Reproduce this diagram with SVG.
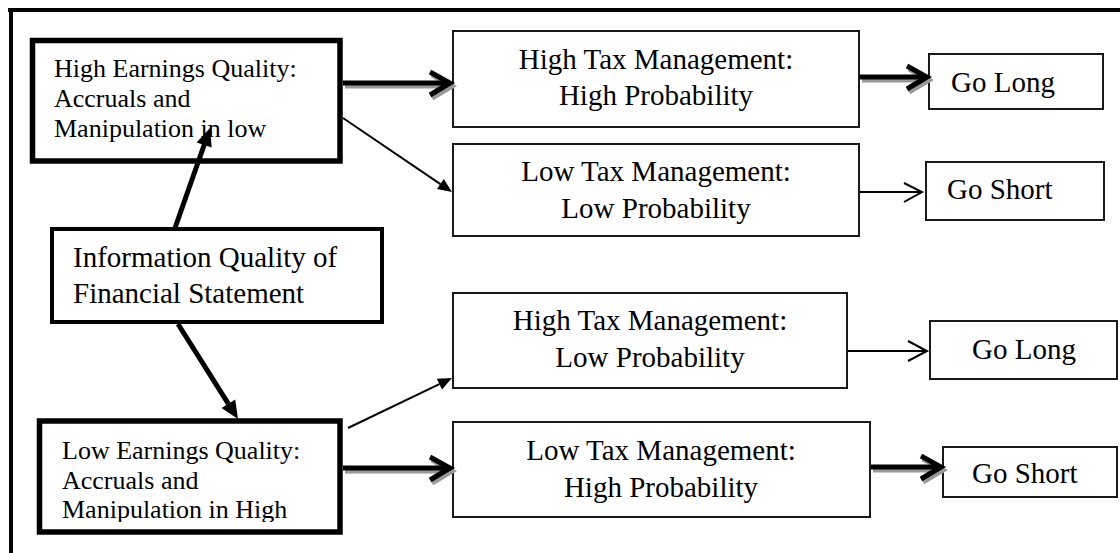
<svg xmlns="http://www.w3.org/2000/svg" width="1120" height="553" viewBox="0 0 1120 553">
<defs>
<style>
text{font-family:"Liberation Serif","Times New Roman",serif;fill:#000}
.t26{font-size:26px}
.t29{font-size:29px}
.mid{text-anchor:middle}
.thickbox{fill:#fff;stroke:#000;stroke-width:5.5}
.thinbox{fill:#fff;stroke:#1a1a1a;stroke-width:2}
.frame{stroke:#000;stroke-width:4;fill:none}
.shadow{stroke:#999;stroke-width:5;fill:none}
.bold{stroke:#000;stroke-width:5;fill:none}
.thin{stroke:#000;stroke-width:2;fill:none}
.head{fill:#000;stroke:none}
</style>
<clipPath id="clipLow"><rect x="40" y="424" width="298" height="98"/></clipPath>
</defs>
<rect width="1120" height="553" fill="#fff"/>
<g id="frame">
<line class="frame" x1="8" y1="10" x2="1120" y2="10"/>
<line class="frame" x1="11" y1="8" x2="11" y2="553"/>
</g>
<g id="node-high-eq">
<rect class="thickbox" x="32.5" y="40.5" width="307.5" height="120.5"/>
<text class="t26" x="54" y="77">High Earnings Quality:</text>
<text class="t26" x="54" y="107">Accruals and</text>
<text class="t26" x="54" y="137">Manipulation in low</text>
</g>
<g id="node-info">
<rect x="52" y="229" width="330" height="93" fill="#fff" stroke="#000" stroke-width="4"/>
<text class="t29" x="73" y="267">Information Quality of</text>
<text class="t29" x="73" y="303">Financial Statement</text>
</g>
<g id="node-low-eq">
<rect class="thickbox" x="39.5" y="421" width="300.5" height="111" stroke-width="6"/>
<g clip-path="url(#clipLow)">
<text class="t26" x="62" y="459">Low Earnings Quality:</text>
<text class="t26" x="62" y="489">Accruals and</text>
<text class="t26" x="62" y="518">Manipulation in High</text>
</g>
</g>
<g id="node-htm-hp">
<rect class="thinbox" x="453" y="31" width="406" height="96"/>
<text class="t29 mid" x="656" y="69">High Tax Management:</text>
<text class="t29 mid" x="656" y="105">High Probability</text>
</g>
<g id="node-ltm-lp">
<rect class="thinbox" x="453" y="144" width="406" height="92"/>
<text class="t29 mid" x="656" y="181">Low Tax Management:</text>
<text class="t29 mid" x="656" y="218">Low Probability</text>
</g>
<g id="node-htm-lp">
<rect class="thinbox" x="453" y="293" width="394" height="95"/>
<text class="t29 mid" x="650" y="330">High Tax Management:</text>
<text class="t29 mid" x="650" y="367">Low Probability</text>
</g>
<g id="node-ltm-hp">
<rect class="thinbox" x="453" y="422" width="417" height="95"/>
<text class="t29 mid" x="661" y="460">Low Tax Management:</text>
<text class="t29 mid" x="661" y="497">High Probability</text>
</g>
<g id="node-golong1">
<rect class="thinbox" x="929" y="54" width="174" height="55"/>
<text class="t29" x="951" y="92">Go Long</text>
</g>
<g id="node-goshort1">
<rect class="thinbox" x="926" y="162" width="178" height="58"/>
<text class="t29" x="947" y="199">Go Short</text>
</g>
<g id="node-golong2">
<rect class="thinbox" x="930" y="321" width="187" height="58"/>
<text class="t29" x="972" y="359">Go Long</text>
</g>
<g id="node-goshort2">
<rect class="thinbox" x="943" y="447" width="174" height="50"/>
<text class="t29" x="972" y="483">Go Short</text>
</g>
<g id="connectors">
<line class="bold" x1="175" y1="228" x2="204.5" y2="144"/>
<polygon class="head" points="210,128 211.7,147.6 196.6,142.4"/>
<line class="bold" x1="178" y1="324" x2="228.4" y2="403.8"/>
<polygon class="head" points="238,419 235.2,399.5 221.6,408.1"/>
<g transform="translate(2,3)">
<line class="shadow" x1="343" y1="83" x2="449" y2="83"/>
<polyline class="shadow" points="430,72 450,83 430,95"/>
</g>
<line class="bold" x1="343" y1="83" x2="449" y2="83"/>
<polyline class="bold" points="430,72 450,83 430,95"/>
<line class="thin" x1="343" y1="118" x2="440.4" y2="184.1"/>
<polygon class="head" points="452,192 443.8,179.1 437,189.1"/>
<g transform="translate(2,3)">
<line class="shadow" x1="860" y1="77" x2="926" y2="77"/>
<polyline class="shadow" points="907,66 927,77 907,89"/>
</g>
<line class="bold" x1="860" y1="77" x2="926" y2="77"/>
<polyline class="bold" points="907,66 927,77 907,89"/>
<line class="thin" x1="860" y1="192" x2="922" y2="192"/>
<polyline class="thin" points="904,183 922,192 904,202"/>
<line class="thin" x1="348" y1="428" x2="439.4" y2="384.1"/>
<polygon class="head" points="452,378 442,389.5 436.8,378.7"/>
<g transform="translate(2,3)">
<line class="shadow" x1="343" y1="468" x2="449" y2="468"/>
<polyline class="shadow" points="430,457 450,468 430,480"/>
</g>
<line class="bold" x1="343" y1="468" x2="449" y2="468"/>
<polyline class="bold" points="430,457 450,468 430,480"/>
<line class="thin" x1="848" y1="351" x2="927" y2="351"/>
<polyline class="thin" points="908,341 927,351 908,361"/>
<g transform="translate(2,3)">
<line class="shadow" x1="871" y1="467" x2="940" y2="467"/>
<polyline class="shadow" points="921,456 941,467 921,479"/>
</g>
<line class="bold" x1="871" y1="467" x2="940" y2="467"/>
<polyline class="bold" points="921,456 941,467 921,479"/>
</g>
</svg>
